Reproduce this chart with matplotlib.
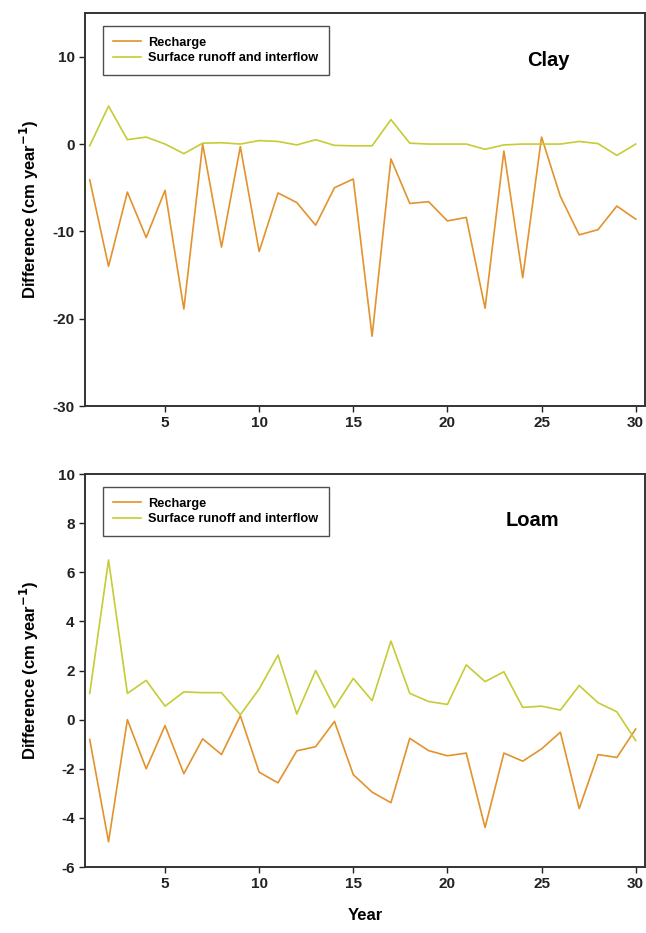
import numpy as np
import matplotlib
matplotlib.use("Agg")
import matplotlib.pyplot as plt

plt.rcParams['font.family'] = ['Liberation Sans', 'DejaVu Sans']
plt.rcParams['axes.unicode_minus'] = False

# -----------------------------
# Data
# -----------------------------
years = np.arange(1, 31)

clay_recharge = [-4.1, -14.0, -5.5, -10.7, -5.3, -18.9, 0.0, -11.8, -0.3, -12.3,
                 -5.6, -6.7, -9.3, -5.0, -4.0, -22.0, -1.7, -6.8, -6.6, -8.8,
                 -8.4, -18.8, -0.8, -15.3, 0.8, -6.0, -10.4, -9.8, -7.1, -8.6]
clay_runoff = [-0.2, 4.35, 0.5, 0.8, 0.0, -1.1, 0.1, 0.15, 0.0, 0.4,
               0.3, -0.1, 0.5, -0.15, -0.2, -0.2, 2.8, 0.1, 0.0, 0.0,
               0.0, -0.6, -0.1, 0.0, 0.0, 0.0, 0.3, 0.05, -1.3, 0.0]

loam_recharge = [-0.81, -4.97, 0.0, -2.0, -0.24, -2.2, -0.78, -1.42, 0.16, -2.14,
                 -2.57, -1.27, -1.1, -0.07, -2.24, -2.95, -3.38, -0.76, -1.26, -1.47,
                 -1.36, -4.39, -1.36, -1.69, -1.19, -0.51, -3.62, -1.42, -1.54, -0.38]
loam_runoff = [1.07, 6.5, 1.07, 1.6, 0.55, 1.13, 1.1, 1.1, 0.2, 1.25,
               2.63, 0.23, 2.0, 0.49, 1.68, 0.77, 3.2, 1.07, 0.74, 0.62,
               2.23, 1.55, 1.95, 0.5, 0.55, 0.39, 1.39, 0.69, 0.32, -0.85]

recharge_color = '#E3922C'
runoff_color = '#C5CC35'

# -----------------------------
# Figure
# -----------------------------
fig = plt.figure(figsize=(6.46, 9.33), dpi=100)
ax1 = fig.add_axes([0.1316, 0.5648, 0.867, 0.4212])
ax2 = fig.add_axes([0.1316, 0.0707, 0.867, 0.4212])

panels = [
    (ax1, clay_recharge, clay_runoff, 'Clay', (0.827, 0.88), (-30, 15), [-30, -20, -10, 0, 10]),
    (ax2, loam_recharge, loam_runoff, 'Loam', (0.798, 0.883), (-6, 10), [-6, -4, -2, 0, 2, 4, 6, 8, 10]),
]

for ax, rech, run, name, name_xy, ylim, yticks in panels:
    ax.plot(years, rech, color=recharge_color, lw=1.2, label='Recharge')
    ax.plot(years, run, color=runoff_color, lw=1.2, label='Surface runoff and interflow')
    ax.set_xlim(0.75, 30.5)
    ax.set_ylim(*ylim)
    ax.set_xticks([5, 10, 15, 20, 25, 30])
    ax.set_yticks(yticks)
    ax.tick_params(direction='out', length=4, width=1, labelsize=11, colors='#222222')
    for lab in ax.get_xticklabels() + ax.get_yticklabels():
        lab.set_fontweight('bold')
    for sp in ax.spines.values():
        sp.set_linewidth(1.4)
        sp.set_color('#333333')
    ax.set_ylabel('Difference (cm year$^{\\mathbf{-1}}$)', fontsize=12, fontweight='bold')
    ax.yaxis.set_label_coords(-0.078, 0.5)
    leg = ax.legend(loc='upper left', bbox_to_anchor=(0.032, 0.966),
                    prop={'size': 9.2, 'weight': 'bold'},
                    frameon=True, fancybox=False, handlelength=2.2, handletextpad=0.55,
                    borderpad=0.8, labelspacing=0.3, borderaxespad=0)
    leg.get_frame().set_edgecolor('#222222')
    leg.get_frame().set_linewidth(1.0)
    ax.text(name_xy[0], name_xy[1], name, transform=ax.transAxes, fontsize=14.5,
            fontweight='bold', ha='center', va='center')

ax2.set_xlabel('Year', fontsize=12, fontweight='bold', labelpad=12)

fig.savefig('out.png', dpi=100)
